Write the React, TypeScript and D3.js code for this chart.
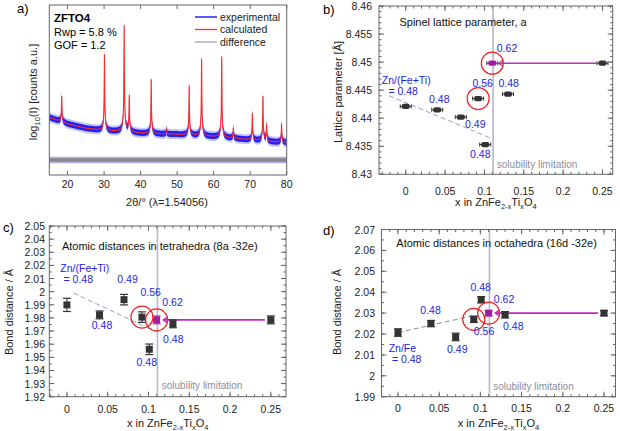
import React from "react";
import * as d3 from "d3";

const FONT = "'Liberation Sans', Arial, Helvetica, sans-serif";
const BLUE = "#2323e6";
const MAG = "#a41aa4";

// ---------- Panel a: XRD pattern ----------
const bgTheta = [15, 18, 20, 25, 30, 35, 40, 45, 50, 55, 60, 65, 70, 75, 80];
const bgLevel = [33.9, 31.4, 30, 27.5, 25.9, 25.5, 24.5, 24.1, 23.9, 23.1, 22.5, 21.6, 20.6, 19.6, 19.0];
const peakTheta = [18.4, 30.1, 35.5, 36.9, 42.9, 47.1, 53.3, 56.7, 62.2, 65.4, 70.6, 73.5, 74.5, 78.6];
const peakTop = [46.5, 71, 87.8, 46.1, 56.3, 26.8, 52.5, 68.2, 69.6, 27.5, 36.3, 46.1, 29.4, 30];
const diffLevel = 8.8;
const xrdTicks = [20, 30, 40, 50, 60, 70, 80];
const legendItems = ["experimental", "calculated", "difference"];

// ---------- Panels b-d ----------
const xComp = [0, 0.04, 0.07, 0.092, 0.101, 0.11, 0.13, 0.25];
const latticeA = [8.4421, 8.4415, 8.4402, 8.4435, 8.4353, 8.4498, 8.4443, 8.4498];
const tetraDist = [1.9899, 1.9823, 1.9939, 1.9806, 1.9561, 1.9785, 1.9755, 1.9785];
const tetraErr = [0.005, 0.003, 0.004, 0.004, 0.004, 0.003, 0.003, 0.003];
const octaDist = [2.0207, 2.025, 2.0186, 2.027, 2.0364, 2.03, 2.0292, 2.03];
const octaErr = [0.0018, 0.0015, 0.0018, 0.0015, 0.0015, 0.0012, 0.0015, 0.0012];
const solubilityX = 0.111;
const xTicks = [0, 0.05, 0.1, 0.15, 0.2, 0.25];
const latticeTicks = [8.43, 8.435, 8.44, 8.445, 8.45, 8.455, 8.46];
const tetraTicks = [1.92, 1.93, 1.94, 1.95, 1.96, 1.97, 1.98, 1.99, 2.0, 2.01, 2.02, 2.03, 2.04, 2.05];
const octaTicks = [1.99, 2.0, 2.01, 2.02, 2.03, 2.04, 2.05, 2.06, 2.07];

type Ann = { t: string; x: number; y: number };
const latticeAnns: Ann[] = [
  { t: "Zn/(Fe+Ti)", x: -0.0305, y: 8.4468 },
  { t: "= 0.48", x: -0.022, y: 8.4449 },
  { t: "0.48", x: 0.0297, y: 8.4434 },
  { t: "0.49", x: 0.0754, y: 8.439 },
  { t: "0.56", x: 0.0847, y: 8.4463 },
  { t: "0.48", x: 0.0818, y: 8.4336 },
  { t: "0.62", x: 0.1157, y: 8.4525 },
  { t: "0.48", x: 0.1178, y: 8.4463 },
];
const tetraAnns: Ann[] = [
  { t: "Zn/(Fe+Ti)", x: -0.0081, y: 2.0177 },
  { t: "= 0.48", x: -0.0041, y: 2.0096 },
  { t: "0.48", x: 0.0305, y: 1.9748 },
  { t: "0.49", x: 0.0618, y: 2.0096 },
  { t: "0.56", x: 0.0902, y: 2.0 },
  { t: "0.48", x: 0.0854, y: 1.9465 },
  { t: "0.62", x: 0.117, y: 1.9924 },
  { t: "0.48", x: 0.1179, y: 1.9641 },
];
const octaAnns: Ann[] = [
  { t: "Zn/Fe", x: -0.0113, y: 2.0132 },
  { t: "= 0.48", x: -0.0073, y: 2.0079 },
  { t: "0.48", x: 0.0271, y: 2.0316 },
  { t: "0.49", x: 0.0596, y: 2.0127 },
  { t: "0.56", x: 0.092, y: 2.0212 },
  { t: "0.48", x: 0.0879, y: 2.0426 },
  { t: "0.62", x: 0.1163, y: 2.0367 },
  { t: "0.48", x: 0.1276, y: 2.0239 },
];

const fmt = (v: number, d: number) => String(+v.toFixed(d));

function XrdPanel() {
  const box = { x0: 49.3, y0: 5, x1: 286.7, y1: 175 };
  const sx = d3.scaleLinear().domain([15, 80]).range([box.x0, box.x1]);
  const sy = d3.scaleLinear().domain([0, 100]).range([box.y1, box.y0]);
  const bg = d3.scaleLinear().domain(bgTheta).range(bgLevel);
  const heights = peakTheta.map((p, i) => peakTop[i] - bg(p));
  const pts: [number, number][] = [];
  for (let t = 15; t <= 80.0001; t += 0.02) {
    let v = bg(t);
    peakTheta.forEach((p, i) => {
      const d = t - p;
      const g = 0.08, G = 0.45;
      v += heights[i] * (0.88 * (g * g) / (d * d + g * g) + 0.12 * (G * G) / (d * d + G * G));
    });
    pts.push([t, v]);
  }
  const line = d3.line<[number, number]>().x((d) => sx(d[0])).y((d) => sy(d[1]));
  const band = (h: number) =>
    d3.area<[number, number]>().x((d) => sx(d[0])).y0((d) => sy(d[1]) + h).y1((d) => sy(d[1]) - h)(pts) || "";
  const path = line(pts) || "";
  const diffPts: [number, number][] = [[15, diffLevel], [80, diffLevel]];
  const diffBand = (h: number) =>
    d3.area<[number, number]>().x((d) => sx(d[0])).y0((d) => sy(d[1]) + h).y1((d) => sy(d[1]) - h)(diffPts) || "";
  return (
    <g>
      <text x={17} y={13} fontSize={13} fontFamily={FONT}>a)</text>
      <defs>
        <clipPath id="clipA"><rect x={box.x0} y={box.y0} width={box.x1 - box.x0} height={box.y1 - box.y0} /></clipPath>
      </defs>
      <g clipPath="url(#clipA)">
        <path d={diffBand(3.2)} fill="#b4b4dc" />
        <path d={diffBand(1.8)} fill="#8a8a8a" />
        <path d={band(5)} fill="#9a9aff" opacity={0.6} />
        <path d={band(3)} fill="#2020f0" />
        <path d={path} stroke="#ff2a2a" strokeWidth={1.1} fill="none" />
      </g>
      <rect x={box.x0} y={box.y0} width={box.x1 - box.x0} height={box.y1 - box.y0} fill="none" stroke="#666" strokeWidth={1} />
      {xrdTicks.map((t) => (
        <g key={t}>
          <line x1={sx(t)} x2={sx(t)} y1={box.y1} y2={box.y1 - 4} stroke="#666" />
          <line x1={sx(t)} x2={sx(t)} y1={box.y0} y2={box.y0 + 4} stroke="#666" />
          <text x={sx(t)} y={188} fontSize={10.5} textAnchor="middle" fontFamily={FONT} fill="#222">{t}</text>
        </g>
      ))}
      <text x={167} y={206} fontSize={11} textAnchor="middle" fontFamily={FONT} fill="#222">2θ/° (λ=1.54056)</text>
      <text transform="translate(37,92) rotate(-90)" fontSize={11} textAnchor="middle" fontFamily={FONT} fill="#222">
        log<tspan fontSize={7.5} dy={3}>10</tspan><tspan dy={-3}>(I) [counts a.u.]</tspan>
      </text>
      <text x={54} y={22} fontSize={11.5} fontWeight="bold" fontFamily={FONT}>ZFTO4</text>
      <text x={54} y={36} fontSize={11} fontFamily={FONT}>Rwp = 5.8 %</text>
      <text x={54} y={49} fontSize={11} fontFamily={FONT}>GOF = 1.2</text>
      {legendItems.map((s, i) => {
        const y = 17 + i * 12.5;
        const col = i === 0 ? "#5a5aff" : i === 1 ? "#ff3030" : "#a8a0b8";
        return (
          <g key={s}>
            <line x1={195} x2={217} y1={y} y2={y} stroke={col} strokeWidth={i === 0 ? 2 : 1.3} />
            <text x={220} y={y + 3.8} fontSize={10.5} fontFamily={FONT} fill="#222">{s}</text>
          </g>
        );
      })}
    </g>
  );
}

interface PanelProps {
  id: string;
  letter: string; lx: number; ly: number;
  box: { x0: number; y0: number; x1: number; y1: number };
  xDom: [number, number]; yDom: [number, number];
  yTicks: number[]; yDec: number; yMinorStep: number;
  values: number[]; errs?: number[]; marker: "oval" | "square";
  anns: Ann[];
  dash: [number, number, number, number]; dashColor: string;
  title: Ann; titleText: string; sol: Ann;
  yTitle: string; yTitleX: number; yTitleY: number;
  yLabelRight: number; xLabelY: number; xTitleY: number;
}

function Panel(p: PanelProps) {
  const { box } = p;
  const sx = d3.scaleLinear().domain(p.xDom).range([box.x0, box.x1]);
  const sy = d3.scaleLinear().domain(p.yDom).range([box.y1, box.y0]);
  const xMinor = d3.range(Math.ceil(p.xDom[0] / 0.01) * 0.01, p.xDom[1], 0.01);
  const yMinor = d3.range(p.yDom[0], p.yDom[1] + 1e-9, p.yMinorStep);
  const tc = "#666";
  const magIdx = 5;
  const circIdx = [3, 5];
  const endIdx = 7;
  const ay = sy(p.values[endIdx]);
  return (
    <g>
      <text x={p.lx} y={p.ly} fontSize={13} fontFamily={FONT}>{p.letter}</text>
      <line x1={sx(solubilityX)} x2={sx(solubilityX)} y1={box.y0} y2={box.y1} stroke="#b6b6cc" strokeWidth={1.6} />
      <text x={sx(p.sol.x)} y={sy(p.sol.y)} fontSize={10} fontFamily={FONT} fill="#8e8e9e" dominantBaseline="central">solubility limitation</text>
      <line x1={sx(p.dash[0])} y1={sy(p.dash[1])} x2={sx(p.dash[2])} y2={sy(p.dash[3])} stroke={p.dashColor} strokeWidth={1} strokeDasharray="5,3" />
      <line x1={sx(xComp[endIdx]) - 6} x2={sx(xComp[magIdx]) + 7} y1={ay} y2={ay} stroke="#c028c8" strokeWidth={1.6} />
      <path d={`M${sx(xComp[magIdx]) + 11},${ay - 3.2} L${sx(xComp[magIdx]) + 6.5},${ay} L${sx(xComp[magIdx]) + 11},${ay + 3.2}`} stroke="#c028c8" strokeWidth={1.3} fill="none" />
      {xComp.map((x, i) => {
        const cx = sx(x), cy = sy(p.values[i]);
        const fill = i === magIdx ? MAG : "#333";
        if (p.marker === "oval") {
          return (
            <g key={i}>
              <line x1={cx - 5.5} x2={cx + 5.5} y1={cy} y2={cy} stroke="#333" strokeWidth={1} />
              <line x1={cx - 5.5} x2={cx - 5.5} y1={cy - 2} y2={cy + 2} stroke="#333" strokeWidth={1} />
              <line x1={cx + 5.5} x2={cx + 5.5} y1={cy - 2} y2={cy + 2} stroke="#333" strokeWidth={1} />
              <rect x={cx - 4} y={cy - 2.6} width={8} height={5.2} rx={2} fill={fill} />
            </g>
          );
        }
        const e = p.errs ? p.errs[i] : 0;
        const y1 = sy(p.values[i] + e), y2 = sy(p.values[i] - e);
        const ec = i === magIdx ? "#a040a0" : "#333";
        return (
          <g key={i}>
            <line x1={cx} x2={cx} y1={y1} y2={y2} stroke={ec} strokeWidth={1} />
            <line x1={cx - 4} x2={cx + 4} y1={y1} y2={y1} stroke={ec} strokeWidth={1.2} />
            <line x1={cx - 4} x2={cx + 4} y1={y2} y2={y2} stroke={ec} strokeWidth={1.2} />
            <rect x={cx - 3.5} y={cy - 3.5} width={7} height={7} fill={fill} />
          </g>
        );
      })}
      {circIdx.map((i) => (
        <circle key={i} cx={sx(xComp[i])} cy={sy(p.values[i])} r={11} fill="none" stroke="#ee2222" strokeWidth={1.2} />
      ))}
      {p.anns.map((a, i) => (
        <text key={i} x={sx(a.x)} y={sy(a.y)} fontSize={10.5} fontFamily={FONT} fill={BLUE} dominantBaseline="central">{a.t}</text>
      ))}
      <text x={sx(p.title.x)} y={sy(p.title.y)} fontSize={11} fontFamily={FONT} fill="#111" dominantBaseline="central">{p.titleText}</text>
      <rect x={box.x0} y={box.y0} width={box.x1 - box.x0} height={box.y1 - box.y0} fill="none" stroke="#666" strokeWidth={1} />
      {xMinor.map((v, i) => (
        <g key={"xm" + i}>
          <line x1={sx(v)} x2={sx(v)} y1={box.y1} y2={box.y1 - 2.5} stroke={tc} />
          <line x1={sx(v)} x2={sx(v)} y1={box.y0} y2={box.y0 + 2.5} stroke={tc} />
        </g>
      ))}
      {yMinor.map((v, i) => (
        <g key={"ym" + i}>
          <line x1={box.x0} x2={box.x0 + 2.5} y1={sy(v)} y2={sy(v)} stroke={tc} />
          <line x1={box.x1} x2={box.x1 - 2.5} y1={sy(v)} y2={sy(v)} stroke={tc} />
        </g>
      ))}
      {xTicks.map((v) => (
        <g key={"xt" + v}>
          <line x1={sx(v)} x2={sx(v)} y1={box.y1} y2={box.y1 - 5} stroke={tc} />
          <line x1={sx(v)} x2={sx(v)} y1={box.y0} y2={box.y0 + 5} stroke={tc} />
          <text x={sx(v)} y={p.xLabelY} fontSize={10.5} textAnchor="middle" fontFamily={FONT} fill="#222">{fmt(v, 2)}</text>
        </g>
      ))}
      {p.yTicks.map((v) => (
        <g key={"yt" + v}>
          <line x1={box.x0} x2={box.x0 + 5} y1={sy(v)} y2={sy(v)} stroke={tc} />
          <line x1={box.x1} x2={box.x1 - 5} y1={sy(v)} y2={sy(v)} stroke={tc} />
          <text x={p.yLabelRight} y={sy(v)} fontSize={10.5} textAnchor="end" dominantBaseline="central" fontFamily={FONT} fill="#222">{fmt(v, p.yDec)}</text>
        </g>
      ))}
      <text x={(box.x0 + box.x1) / 2} y={p.xTitleY} fontSize={11} textAnchor="middle" fontFamily={FONT} fill="#222">
        x in ZnFe<tspan fontSize={7.5} dy={3}>2-x</tspan><tspan dy={-3}>Ti</tspan><tspan fontSize={7.5} dy={3}>x</tspan><tspan dy={-3}>O</tspan><tspan fontSize={7.5} dy={3}>4</tspan>
      </text>
      <text transform={`translate(${p.yTitleX},${p.yTitleY}) rotate(-90)`} fontSize={11} textAnchor="middle" fontFamily={FONT} fill="#222">{p.yTitle}</text>
    </g>
  );
}

export default function App() {
  return (
    <svg width={620} height={431} style={{ position: "absolute", left: 0, top: 0, background: "#fff" }}>
      <rect width={620} height={431} fill="#fff" />
      <XrdPanel />
      <Panel
        id="b" letter="b)" lx={323} ly={14}
        box={{ x0: 379, y0: 6, x1: 612.7, y1: 174.3 }}
        xDom={[-0.034, 0.263]} yDom={[8.43, 8.46]}
        yTicks={latticeTicks} yDec={3} yMinorStep={0.001}
        values={latticeA} marker="oval" anns={latticeAnns}
        dash={[-0.0212, 8.444, 0.107, 8.4365]} dashColor="#9a9ad8"
        title={{ t: "", x: -0.008, y: 8.4572 }} titleText="Spinel lattice parameter, a"
        sol={{ t: "", x: 0.1157, y: 8.4318 }}
        yTitle="Lattice parameter [Å]" yTitleX={342} yTitleY={92}
        yLabelRight={372} xLabelY={195} xTitleY={206}
      />
      <Panel
        id="c" letter="c)" lx={3} ly={232}
        box={{ x0: 49.3, y0: 226, x1: 286, y1: 396.7 }}
        xDom={[-0.0216, 0.2686]} yDom={[1.92, 2.05]}
        yTicks={tetraTicks} yDec={2} yMinorStep={0.005}
        values={tetraDist} errs={tetraErr} marker="square" anns={tetraAnns}
        dash={[0.0081, 1.999, 0.1098, 1.9692]} dashColor="#9a9ad8"
        title={{ t: "", x: -0.0061, y: 2.0348 }} titleText="Atomic distances in tetrahedra (8a -32e)"
        sol={{ t: "", x: 0.1163, y: 1.9283 }}
        yTitle="Bond distance / Å" yTitleX={13} yTitleY={312}
        yLabelRight={45} xLabelY={413} xTitleY={427}
      />
      <Panel
        id="d" letter="d)" lx={323} ly={235}
        box={{ x0: 381.5, y0: 229.5, x1: 615.5, y1: 396.7 }}
        xDom={[-0.02, 0.264]} yDom={[1.99, 2.07]}
        yTicks={octaTicks} yDec={2} yMinorStep={0.005}
        values={octaDist} errs={octaErr} marker="square" anns={octaAnns}
        dash={[0, 2.0207, 0.0908, 2.0287]} dashColor="#8c8c8c"
        title={{ t: "", x: -0.002, y: 2.0636 }} titleText="Atomic distances in octahedra (16d -32e)"
        sol={{ t: "", x: 0.1155, y: 1.9951 }}
        yTitle="Bond distance / Å" yTitleX={341} yTitleY={312}
        yLabelRight={375} xLabelY={412} xTitleY={427}
      />
    </svg>
  );
}
